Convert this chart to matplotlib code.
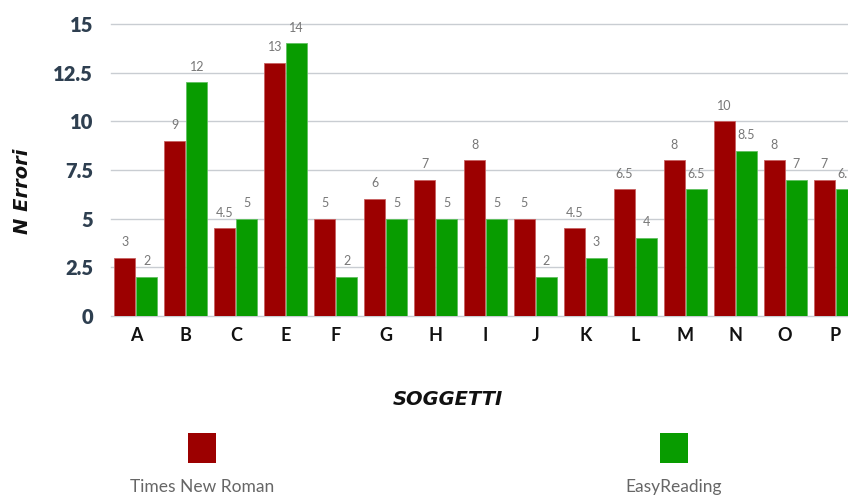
import numpy as np
import matplotlib.pyplot as plt
from matplotlib.patches import Rectangle

# Errori per soggetto con i due font
soggetti = ['A', 'B', 'C', 'E', 'F', 'G', 'H', 'I', 'J', 'K', 'L', 'M', 'N', 'O', 'P']
times_new_roman = [3, 9, 4.5, 13, 5, 6, 7, 8, 5, 4.5, 6.5, 8, 10, 8, 7]
easy_reading = [2, 12, 5, 14, 2, 5, 5, 5, 2, 3, 4, 6.5, 8.5, 7, 6.5]
y_ticks = [0, 2.5, 5, 7.5, 10, 12.5, 15]

red = '#9c0000'
green = '#089c00'

fig = plt.figure(figsize=(8.48, 4.99), dpi=100)
# the plot runs past the right edge of the figure
ax = fig.add_axes([111 / 848, 183 / 499, 749 / 848, 292 / 499])

x = np.arange(len(soggetti))
w = 0.42
b1 = ax.bar(x - 0.22, times_new_roman, w, color=red, edgecolor='#c86060', linewidth=0.6, zorder=3)
b2 = ax.bar(x + 0.22, easy_reading, w, color=green, edgecolor='#60c060', linewidth=0.6, zorder=3)

def fmt(v):
    return str(int(v)) if v == int(v) else str(v)

for bars, vals in ((b1, times_new_roman), (b2, easy_reading)):
    for bar, v in zip(bars, vals):
        ax.annotate(fmt(v), (bar.get_x() + bar.get_width() / 2, v),
                    xytext=(0, 7), textcoords='offset points',
                    ha='center', va='bottom', fontsize=9, color='#777777',
                    family='Lato', annotation_clip=False)

ax.set_xlim(-0.5, len(soggetti) - 0.5)
ax.set_ylim(0, 15)
ax.set_yticks(y_ticks)
ax.set_yticklabels([fmt(t) for t in y_ticks], fontsize=14.5, fontweight='heavy',
                   color='#2e3f50', family='Lato')
ax.set_xticks(x)
ax.set_xticklabels(soggetti, fontsize=13, fontweight='bold', color='#111111', family='Lato')
ax.tick_params(axis='y', length=0, pad=13)
ax.tick_params(axis='x', length=0, pad=8)

ax.grid(axis='y', color='#c9cdd2', linewidth=1, zorder=0)
for g in ax.get_ygridlines():
    g.set_clip_on(False)
for s in ax.spines.values():
    s.set_visible(False)
ax.set_axisbelow(True)

ax.set_ylabel('N Errori', fontsize=14, fontweight='bold', fontstyle='italic',
              color='#111111')
ax.yaxis.set_label_coords(-(111 - 32) / 749, (316 - 191) / 292)
ax.set_xlabel('SOGGETTI', fontsize=14, fontweight='bold', fontstyle='italic',
              color='#111111')
ax.xaxis.set_label_coords((448 - 111) / 749, -(390 - 316) / 292)

# legenda: quadrato sopra, nome sotto
legend = [('Times New Roman', red, 188), ('EasyReading', green, 660)]
for name, col, px in legend:
    fig.add_artist(Rectangle((px / 848, (499 - 463) / 499), 28 / 848, 30 / 499,
                             transform=fig.transFigure, facecolor=col,
                             edgecolor='none'))
    fig.text((px + 14) / 848, (499 - 487) / 499, name, ha='center', va='center',
             fontsize=12.5, color='#666666', family='Lato')

fig.savefig('out.png', dpi=100)
